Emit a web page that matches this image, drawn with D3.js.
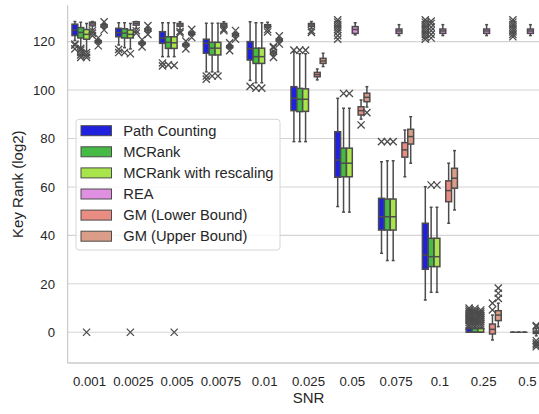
<!DOCTYPE html>
<html>
<head>
<meta charset="utf-8">
<script src="https://cdn.jsdelivr.net/npm/d3@7"></script>
<style>
  body { margin: 0; background: #fff; }
  svg { display: block; font-family: "Liberation Sans", Arial, sans-serif; }
</style>
</head>
<body>
<svg id="chart" width="539" height="414"></svg>
<script>
var snrs = ["0.001", "0.0025", "0.005", "0.0075", "0.01", "0.025", "0.05", "0.075", "0.1", "0.25", "0.5"];
var methods = ["Path Counting", "MCRank", "MCRank with rescaling", "REA", "GM (Lower Bound)", "GM (Upper Bound)"];
var colors = ["#2020df", "#45ba45", "#a8e54a", "#e090e0", "#e98d83", "#db9d88"];
var yTicks = [0, 20, 40, 60, 80, 100, 120];

// [whisker low, q1, median, q3, whisker high] per SNR
var pathCounting = [
  [120.5, 122.5, 124.8, 127.2, 128.3], [118.6, 122, 123.7, 125.5, 127.8], [113.8, 119.3, 121.5, 124.1, 127.8],
  [107.5, 115.2, 119.3, 121, 127.6], [104, 112.4, 117, 120, 128.2], [78.7, 91.5, 96.6, 101.4, 115.8],
  [51.9, 64, 71.1, 82.8, 96.6], [32.6, 42.2, 47.7, 55.3, 70.4], [13.3, 26, 31.9, 45, 60.1],
  [0, 0, 0, 1.5, 2], [0, 0, 0, 0, 0]
];
var mcRank = [
  [117.5, 121.5, 123.8, 125.8, 128], [117.5, 121.5, 123.5, 125.3, 127.8], [113.8, 117.2, 119.7, 122, 127.8],
  [107.5, 114.5, 117.3, 119.7, 127.6], [103, 111, 113.8, 117.3, 127.8], [78.7, 91.1, 96.2, 100.7, 115],
  [49.6, 64.2, 69.8, 76, 92.5], [29.6, 42.2, 47.7, 55, 70.8], [16.5, 27.1, 31.2, 38.8, 51.6],
  [0, 0, 0, 1.5, 2], [0, 0, 0, 0, 0]
];
var mcRankRescaled = [
  [116, 121, 123, 125, 127.5], [117, 121.5, 123, 124.8, 127.5], [113.8, 117.2, 119.5, 122, 127.8],
  [107.5, 114.5, 117.3, 119.7, 127.6], [103, 111, 113.8, 117.3, 127.8], [78.7, 91.2, 96.2, 100.5, 115],
  [49.6, 64.2, 69.8, 76, 92.5], [29.6, 42.2, 47.7, 55, 70.8], [16.5, 27.1, 31.2, 38.8, 51.6],
  [0, 0, 0, 1.5, 2], [0, 0, 0, 0, 0]
];
var rea = [
  [125, 126.5, 127.3, 128, 128.3], [125.5, 126.8, 127.5, 128.2, 128.3], [125, 126.3, 126.9, 127.5, 128.2],
  [125.8, 126.4, 126.9, 127.5, 128.2], [125.5, 126, 126.5, 127, 128], [125.5, 126.3, 126.9, 127.5, 128.3],
  [122.8, 123.4, 125, 126.2, 127.8], [122.5, 123.4, 124.4, 125.2, 127], [122.5, 123.4, 124.4, 125.2, 127],
  [122.5, 123.4, 124.4, 125.2, 127], [122.5, 123.4, 124.4, 125.2, 127]
];
var gmLower = [
  [119, 119.6, 120, 120.4, 121], [118.5, 119, 119.3, 119.7, 120.2], [117.8, 118.3, 118.6, 119, 119.5],
  [117, 117.5, 117.9, 118.3, 118.8], [114.2, 114.9, 115.3, 115.8, 116.4], [104.2, 105.5, 106.4, 107.3, 108.7],
  [88, 89.7, 91.5, 93.1, 95.9], [64.2, 72.3, 75.3, 78.3, 83.5], [45, 53.9, 58.5, 62.5, 69.8],
  [-3.2, -0.7, 1.2, 3.4, 7.1], [-1.5, -0.5, 0, 0.5, 1.5]
];
var gmUpper = [
  [125.5, 126, 126.5, 127, 127.5], [123.8, 124.4, 124.8, 125.2, 125.8], [122.5, 123, 123.4, 123.8, 124.3],
  [121.8, 122.4, 122.8, 123.2, 123.8], [119.8, 120.3, 120.7, 121.1, 121.6], [109.7, 111, 112, 113.1, 115.2],
  [93, 95.2, 97, 98.7, 101.4], [69.8, 77.7, 80.8, 83.8, 89], [50.5, 59.5, 63.6, 67.7, 75],
  [2.3, 4.8, 7.1, 8.9, 12], [0, 1, 2, 3, 4]
];

// outliers per SNR
var pathCountingOut = [[117, 118.5, 119], [116.8, 115.5], [111.2, 110], [105.8, 104.5], [101.5], [116.5],
  [121, 122.5, 124, 125, 126, 127, 128, 129], [78.7], [121, 122, 123, 124, 125, 126, 127, 128, 129],
  [2.6, 3.2, 4, 4.8, 5.5, 6.2, 7, 7.8, 8.5, 9.2, 10], [122, 123, 124, 125, 126, 127, 128, 129]];
var mcRankOut = [[113.5, 114.5, 115.5, 116.5, 117.2], [115.5], [110.4], [105.8], [100.8], [116.5],
  [98.6], [78.7], [60.8, 121.5, 123, 124.5, 126, 127.5, 128.5],
  [2.6, 3.4, 4.2, 5, 5.8, 6.6, 7.4, 8.2, 9, 9.8], []];
var mcRankRescaledOut = [[0, 113.5, 114.5, 115.5], [0, 115], [0, 110.2], [105.8], [100.8], [116.5],
  [98.6], [78.7], [60.8], [2.8, 3.6, 4.4, 5.2, 6, 6.8, 7.6, 8.4, 9.2], []];
var reaOut = [[122.5, 123.5, 124.5], [123.5, 124.5], [123.5, 124.2], [124.5, 125.2], [124, 125], [123.8, 124.5],
  [], [], [], [], []];
var gmLowerOut = [[118.3, 121.6], [117.8, 120.8], [117, 120.2], [116.3, 119.5], [113.5, 117.5, 118], [],
  [85.6], [], [], [9.2, 12], [-3.5, -4.5, -5.2, -6, 2.3, 2.8]];
var gmUpperOut = [[124.8, 128.2], [123, 126.6], [121.7, 125.1], [121, 124.6], [119, 122.4], [],
  [90.7], [], [], [14, 16.1, 18.2], [-5]];

var stats = [pathCounting, mcRank, mcRankRescaled, rea, gmLower, gmUpper];
var fliers = [pathCountingOut, mcRankOut, mcRankRescaledOut, reaOut, gmLowerOut, gmUpperOut];

var margin = { top: 5.3, left: 67.6, bottom: 363 },
  plotRight = 549.4,
  lineColor = "#4c4c4c",
  textColor = "#262626";

var svg = d3.select("#chart");

var x = d3.scaleBand().domain(snrs).range([margin.left, plotRight]);
var y = d3.scaleLinear().domain([-12.7, 135]).range([margin.bottom, margin.top]);
var hueW = x.bandwidth() * 0.8 / methods.length;
function hueX(snr, i) { return x(snr) + x.bandwidth() * 0.1 + hueW * (i + 0.5); }

// grid
svg.append("g")
  .selectAll("line")
  .data(yTicks)
  .enter().append("line")
    .attr("x1", margin.left).attr("x2", plotRight)
    .attr("y1", function(d) { return y(d); }).attr("y2", function(d) { return y(d); })
    .attr("stroke", "#d4d4d4").attr("stroke-width", 1.1);

// spines
svg.append("line").attr("x1", margin.left).attr("x2", margin.left)
  .attr("y1", margin.top).attr("y2", margin.bottom)
  .attr("stroke", "#cccccc").attr("stroke-width", 1.3);
svg.append("line").attr("x1", margin.left).attr("x2", plotRight)
  .attr("y1", margin.bottom).attr("y2", margin.bottom)
  .attr("stroke", "#cccccc").attr("stroke-width", 1.3);

// boxes
methods.forEach(function(m, i) {
  var g = svg.append("g").attr("class", "hue-" + i);
  snrs.forEach(function(snr, j) {
    var s = stats[i][j], cx = hueX(snr, i), half = hueW / 2;
    // whiskers
    g.append("line").attr("x1", cx).attr("x2", cx).attr("y1", y(s[0])).attr("y2", y(s[1]))
      .attr("stroke", lineColor).attr("stroke-width", 1.5);
    g.append("line").attr("x1", cx).attr("x2", cx).attr("y1", y(s[3])).attr("y2", y(s[4]))
      .attr("stroke", lineColor).attr("stroke-width", 1.5);
    // caps
    [s[0], s[4]].forEach(function(v) {
      g.append("line").attr("x1", cx - half / 2).attr("x2", cx + half / 2)
        .attr("y1", y(v)).attr("y2", y(v))
        .attr("stroke", lineColor).attr("stroke-width", 1.5);
    });
    g.append("rect")
      .attr("x", cx - half).attr("width", hueW)
      .attr("y", y(s[3])).attr("height", Math.max(0, y(s[1]) - y(s[3])))
      .attr("fill", colors[i]).attr("stroke", lineColor).attr("stroke-width", 1.5);
    g.append("line").attr("x1", cx - half).attr("x2", cx + half)
      .attr("y1", y(s[2])).attr("y2", y(s[2]))
      .attr("stroke", lineColor).attr("stroke-width", 1.5);
    // outliers as x markers
    fliers[i][j].forEach(function(v) {
      var py = y(v), r = 3.6;
      g.append("path")
        .attr("d", "M" + (cx - r) + "," + (py - r) + "L" + (cx + r) + "," + (py + r) +
          "M" + (cx - r) + "," + (py + r) + "L" + (cx + r) + "," + (py - r))
        .attr("stroke", lineColor).attr("stroke-width", 1.3).attr("fill", "none");
    });
  });
});

// axes
var yAxis = svg.append("g")
  .attr("transform", "translate(" + margin.left + ",0)")
  .call(d3.axisLeft(y).tickValues(yTicks).tickSize(0).tickPadding(12.6));
yAxis.select(".domain").remove();
yAxis.selectAll("text").attr("fill", textColor).style("font-size", "13.2px");

var xAxis = svg.append("g")
  .attr("transform", "translate(0," + margin.bottom + ")")
  .call(d3.axisBottom(x).tickSize(0).tickPadding(13.3));
xAxis.select(".domain").remove();
xAxis.selectAll("text").attr("fill", textColor).style("font-size", "13.2px");

svg.append("text")
  .attr("x", (margin.left + plotRight) / 2).attr("y", 403)
  .attr("text-anchor", "middle").attr("fill", textColor)
  .style("font-size", "15px").text("SNR");

svg.append("text")
  .attr("transform", "translate(23," + ((margin.top + margin.bottom) / 2) + ") rotate(-90)")
  .attr("text-anchor", "middle").attr("fill", textColor)
  .style("font-size", "15px").text("Key Rank (log2)");

// legend
var legend = svg.append("g").attr("class", "legend");
legend.append("rect")
  .attr("x", 76).attr("y", 119.3).attr("width", 204).attr("height", 130.7)
  .attr("rx", 3).attr("fill", "#fff").attr("fill-opacity", 0.8)
  .attr("stroke", "#d6d6d6").attr("stroke-width", 1);
methods.forEach(function(m, i) {
  var cy = 130.7 + i * 21.1;
  legend.append("rect")
    .attr("x", 81).attr("y", cy - 5).attr("width", 30.5).attr("height", 10)
    .attr("fill", colors[i]).attr("stroke", lineColor).attr("stroke-width", 1);
  legend.append("text")
    .attr("x", 123.3).attr("y", cy).attr("dy", "0.36em")
    .attr("fill", textColor).style("font-size", "14.7px").text(m);
});
</script>
</body>
</html>
